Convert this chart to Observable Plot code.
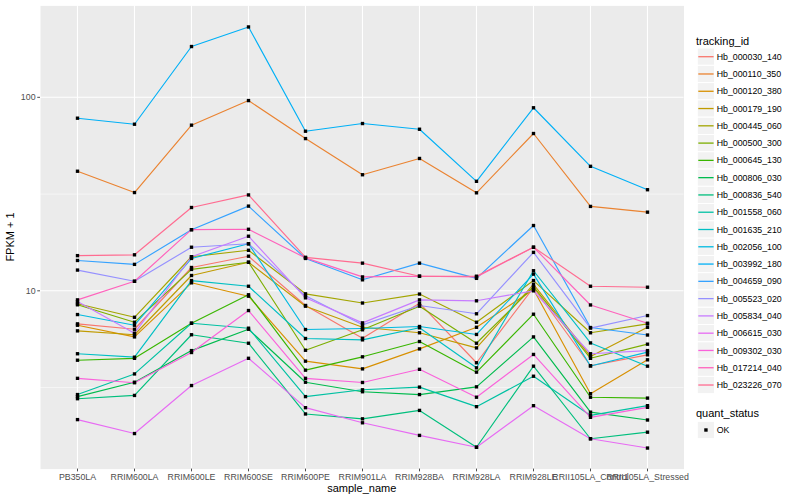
<!DOCTYPE html>
<html><head><meta charset="utf-8">
<script src="https://cdn.jsdelivr.net/npm/d3@7"></script>
<script src="https://cdn.jsdelivr.net/npm/@observablehq/plot@0.6"></script>
<style>
body{margin:0;background:#fff;}
#chart{position:relative;width:800px;height:500px;}
</style>
</head><body><div id="chart"></div>
<script>
// ---- data ----
const sampleNames = ["PB350LA","RRIM600LA","RRIM600LE","RRIM600SE","RRIM600PE","RRIM901LA","RRIM928BA","RRIM928LA","RRIM928LE","RRII105LA_Control","RRII105LA_Stressed"];
const trackingIds = ["Hb_000030_140","Hb_000110_350","Hb_000120_380","Hb_000179_190","Hb_000445_060","Hb_000500_300","Hb_000645_130","Hb_000806_030","Hb_000836_540","Hb_001558_060","Hb_001635_210","Hb_002056_100","Hb_003992_180","Hb_004659_090","Hb_005523_020","Hb_005834_040","Hb_006615_030","Hb_009302_030","Hb_017214_040","Hb_023226_070"];
const quantStatus = ["OK"];

const Hb_000030_140 = [6.75, 6.33, 13.2, 15.1, 8.40, 5.69, 8.63, 4.25, 10.4, 4.10, 4.67];
const Hb_000110_350 = [41.5, 32.2, 71.8, 96.2, 61.2, 39.8, 48.3, 32.1, 65.0, 27.3, 25.5];
const Hb_000120_380 = [6.64, 5.78, 11.0, 9.38, 4.33, 3.95, 5.01, 6.48, 10.15, 2.94, 4.40];
const Hb_000179_190 = [6.21, 5.93, 12.0, 14.05, 8.33, 6.48, 6.07, 5.07, 10.8, 4.58, 6.48];
const Hb_000445_060 = [8.57, 7.30, 15.0, 16.2, 9.65, 8.65, 9.62, 6.88, 11.3, 6.07, 6.75];
const Hb_000500_300 = [8.47, 6.88, 12.9, 14.05, 4.93, 6.29, 8.33, 5.36, 10.5, 4.48, 5.30];
const Hb_000645_130 = [4.38, 4.48, 6.80, 9.54, 3.89, 4.56, 5.47, 3.80, 7.57, 2.82, 2.79];
const Hb_000806_030 = [2.84, 3.37, 4.91, 6.33, 3.37, 3.01, 2.91, 3.19, 5.78, 2.36, 2.15];
const Hb_000836_540 = [2.77, 2.88, 5.93, 5.36, 2.31, 2.18, 2.41, 1.555, 4.08, 1.72, 1.86];
const Hb_001558_060 = [2.91, 3.72, 6.80, 6.41, 2.84, 3.08, 3.18, 2.52, 3.62, 2.27, 2.55];
const Hb_001635_210 = [4.73, 4.54, 11.3, 10.56, 5.67, 5.58, 6.44, 4.00, 12.7, 5.38, 4.08];
const Hb_002056_100 = [7.54, 6.64, 14.7, 17.5, 6.31, 6.39, 6.54, 5.95, 12.2, 4.09, 4.82];
const Hb_003992_180 = [78.0, 72.6, 183, 231, 66.8, 73.2, 68.4, 36.8, 88.3, 44.0, 33.3];
const Hb_004659_090 = [14.35, 13.7, 20.7, 27.4, 14.7, 11.4, 13.9, 11.6, 21.75, 6.46, 5.91];
const Hb_005523_020 = [12.8, 11.2, 16.8, 17.5, 9.42, 6.67, 8.40, 7.61, 15.8, 6.42, 7.45];
const Hb_005834_040 = [8.80, 6.04, 15.0, 19.15, 9.20, 6.83, 8.98, 8.88, 10.0, 4.73, 4.91];
const Hb_006615_030 = [2.16, 1.83, 3.24, 4.48, 2.49, 2.08, 1.79, 1.555, 2.55, 1.72, 1.54];
const Hb_009302_030 = [3.53, 3.35, 4.80, 7.91, 3.53, 3.36, 3.93, 2.82, 4.69, 2.22, 2.50];
const Hb_017214_040 = [8.98, 11.2, 20.7, 20.8, 14.8, 11.8, 11.9, 11.8, 16.8, 8.45, 6.80];
const Hb_023226_070 = [15.2, 15.35, 26.95, 31.3, 14.9, 13.9, 11.9, 11.9, 16.8, 10.56, 10.44];

const seriesValues = [Hb_000030_140, Hb_000110_350, Hb_000120_380, Hb_000179_190, Hb_000445_060,
  Hb_000500_300, Hb_000645_130, Hb_000806_030, Hb_000836_540, Hb_001558_060, Hb_001635_210,
  Hb_002056_100, Hb_003992_180, Hb_004659_090, Hb_005523_020, Hb_005834_040, Hb_006615_030,
  Hb_009302_030, Hb_017214_040, Hb_023226_070];

// ggplot hue palette (20 levels)
const palette = ["#F8766D","#EA8331","#D89000","#C09B00","#A3A500","#7CAE00","#39B600","#00BB4E","#00BF7D","#00C1A3","#00BFC4","#00BAE0","#00B0F6","#35A2FF","#9590FF","#C77CFF","#E76BF3","#FA62DB","#FF62BC","#FF6C91"];

const rows = trackingIds.flatMap((id, i) => sampleNames.map((s, j) => ({id, sample: s, fpkm: seriesValues[i][j], status: quantStatus[0]})));

// log-scale domain with ggplot's 5% expansion
const lmin = Math.log10(d3.min(rows, d => d.fpkm));
const lmax = Math.log10(d3.max(rows, d => d.fpkm));
const pad = 0.05 * (lmax - lmin);
const yDomain = [10 ** (lmin - pad), 10 ** (lmax + pad)];

const W = 800, H = 500, mL = 40, mR = 116.5, mT = 5.4, mB = 31.4;

const plot = Plot.plot({
  width: W, height: H,
  marginLeft: mL, marginRight: mR, marginTop: mT, marginBottom: mB,
  style: {fontFamily: "'Liberation Sans', Arial, sans-serif", fontSize: "8.8px", background: "white", color: "#4D4D4D", overflow: "visible"},
  x: {type: "point", domain: sampleNames, padding: 0.6},
  y: {type: "log", domain: yDomain},
  color: {domain: trackingIds, range: palette},
  marks: [
    Plot.frame({fill: "#EBEBEB", stroke: null}),
    Plot.gridY([10 ** 0.5, 10 ** 1.5], {stroke: "white", strokeOpacity: 1, strokeWidth: 0.55}),
    Plot.gridY([10, 100], {stroke: "white", strokeOpacity: 1, strokeWidth: 1.1}),
    Plot.gridX(sampleNames, {stroke: "white", strokeOpacity: 1, strokeWidth: 1.1}),
    Plot.line(rows, {x: "sample", y: "fpkm", z: "id", stroke: "id", strokeWidth: 1.15}),
    Plot.dot(rows, {x: "sample", y: "fpkm", symbol: "square", r: 1.9, fill: "black", stroke: null}),
    Plot.axisX({tickSize: 2.75, tickPadding: 2.2, label: null, fontSize: 8.8}),
    Plot.axisY({ticks: [10, 100], tickFormat: d => String(d), tickSize: 2.75, tickPadding: 2.2, label: null, fontSize: 8.8})
  ]
});

document.getElementById("chart").appendChild(plot);

// axis titles and legends drawn into the same svg
const svg = d3.select(plot);
svg.append("text").attr("x", (mL + W - mR) / 2).attr("y", 492).attr("text-anchor", "middle")
  .attr("font-size", 11).attr("fill", "black").text("sample_name");
svg.append("text").attr("transform", `translate(14,${(mT + H - mB) / 2}) rotate(-90)`).attr("text-anchor", "middle")
  .attr("font-size", 11).attr("fill", "black").text("FPKM + 1");

const lg = svg.append("g").attr("font-family", "'Liberation Sans', Arial, sans-serif").attr("text-anchor", "start");
const keyX = 697.3, keyW = 17.3, keyStep = 17.28, keyY0 = 56.7;
lg.append("text").attr("x", 696).attr("y", 44.5).attr("font-size", 11).attr("fill", "black").text("tracking_id");
trackingIds.forEach((id, i) => {
  const cy = keyY0 + i * keyStep;
  lg.append("rect").attr("x", keyX).attr("y", cy - keyW / 2).attr("width", keyW).attr("height", keyW)
    .attr("fill", "#F2F2F2").attr("stroke", "white").attr("stroke-width", 1);
  lg.append("line").attr("x1", keyX + 1).attr("x2", keyX + keyW - 1).attr("y1", cy).attr("y2", cy)
    .attr("stroke", palette[i]).attr("stroke-width", 1.3);
  lg.append("text").attr("x", 716.7).attr("y", cy).attr("dy", "0.35em").attr("font-size", 8.8).attr("fill", "black").text(id);
});
lg.append("text").attr("x", 696).attr("y", 416.5).attr("font-size", 11).attr("fill", "black").text("quant_status");
quantStatus.forEach((q, i) => {
  const cy = 430 + i * keyStep;
  lg.append("rect").attr("x", keyX).attr("y", cy - keyW / 2).attr("width", keyW).attr("height", keyW)
    .attr("fill", "#F2F2F2").attr("stroke", "white");
  lg.append("rect").attr("x", keyX + keyW / 2 - 1.7).attr("y", cy - 1.7).attr("width", 3.4).attr("height", 3.4).attr("fill", "black");
  lg.append("text").attr("x", 716.7).attr("y", cy).attr("dy", "0.35em").attr("font-size", 8.8).attr("fill", "black").text(q);
});
</script>
</body></html>
